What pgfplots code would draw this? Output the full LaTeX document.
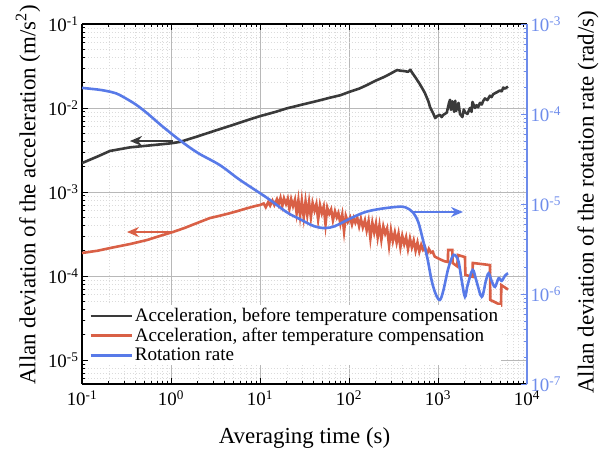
\documentclass[border=0pt]{standalone}
\usepackage{fontspec}
\setmainfont{Liberation Serif}
\usepackage{pgfplots}
\pgfplotsset{compat=1.18}
\usetikzlibrary{arrows.meta}
\definecolor{curvedark}{RGB}{58,58,58}
\definecolor{corange}{RGB}{217,96,70}
\definecolor{cblue}{RGB}{88,122,232}
\definecolor{caxblue}{RGB}{110,140,235}
\begin{document}
\begin{tikzpicture}
\begin{axis}[
  scale only axis, width=445bp, height=360bp,
  xmode=log, ymode=log, xmin=0.1, xmax=10000,
  tick align=inside,
  major tick length=6bp, minor tick length=3.5bp,
  tick label style={font=\fontsize{19}{19}\selectfont},
  label style={font=\fontsize{23}{25}\selectfont},
  xticklabel style={yshift=-3bp},
  ymin=5.18e-6, ymax=0.1,
  axis y line*=left,
  axis line style={line width=1.1bp, black},
  tick style={black, line width=0.7bp},
  xtick={0.1,1,10,100,1000,10000},
  xticklabels={10\textsuperscript{-1},10\textsuperscript{0},10\textsuperscript{1},10\textsuperscript{2},10\textsuperscript{3},10\textsuperscript{4}},
  minor xtick={0.2,0.3,0.4,0.5,0.6,0.7,0.8,0.9,2,3,4,5,6,7,8,9,20,30,40,50,60,70,80,90,200,300,400,500,600,700,800,900,2000,3000,4000,5000,6000,7000,8000,9000},
  ytick={1e-5,1e-4,1e-3,1e-2,1e-1},
  yticklabels={10\textsuperscript{-5},10\textsuperscript{-4},10\textsuperscript{-3},10\textsuperscript{-2},10\textsuperscript{-1}},
  minor ytick={6e-6,7e-6,8e-6,9e-6,2e-5,3e-5,4e-5,5e-5,6e-5,7e-5,8e-5,9e-5,2e-4,3e-4,4e-4,5e-4,6e-4,7e-4,8e-4,9e-4,2e-3,3e-3,4e-3,5e-3,6e-3,7e-3,8e-3,9e-3,2e-2,3e-2,4e-2,5e-2,6e-2,7e-2,8e-2,9e-2},
  grid=both,
  major grid style={draw=black!28, line width=0.6bp},
  minor grid style={draw=black!14, line width=0.5bp, dash pattern=on 1.5bp off 1.5bp},
  xlabel={Averaging time (s)},
  ylabel={Allan deviation of the acceleration (m/s\textsuperscript{2})},
  xlabel style={at={(axis description cs:0.5,-0.15)}, anchor=center},
  ylabel style={at={(axis description cs:-0.1213,0.525)}, anchor=center},
]
% Acceleration, before temperature compensation
\addplot[draw=curvedark, line width=2.6bp, line join=round] coordinates {
(0.1,2.21e-3)(0.15,2.65e-3)(0.206,3.08e-3)(0.346,3.4e-3)(0.6,3.6e-3)(1.0,3.8e-3)(1.26,3.95e-3)
(2.0,4.6e-3)(3.0,5.3e-3)(5.0,6.3e-3)(7.0,7.1e-3)(10,8.0e-3)(15,9.0e-3)(20,9.9e-3)(30,1.10e-2)(45,1.22e-2)(60,1.32e-2)(80,1.42e-2)(100,1.55e-2)
(130,1.7e-2)(160,1.88e-2)(200,2.12e-2)(250,2.35e-2)(300,2.6e-2)(346,2.83e-2)(380,2.78e-2)(420,2.75e-2)(460,2.7e-2)(490,2.85e-2)(510,2.65e-2)
(560,2.3e-2)(620,1.95e-2)(680,1.65e-2)(714,1.5e-2)(780,1.2e-2)(813,1.03e-2)(880,8.7e-3)(930,7.6e-3)(975,8.0e-3)(1052,8.3e-3)(1100,7.8e-3)(1150,8.3e-3)
(1255,8.8e-3)(1330,1.15e-2)(1364,1.25e-2)(1400,9.5e-3)(1450,1.2e-2)(1520,9.0e-3)(1560,1.22e-2)(1600,9.2e-3)(1700,1.15e-2)(1766,8.5e-3)(1880,7.8e-3)
(1950,9.6e-3)(2010,8.9e-3)(2140,8.5e-3)(2288,1.0e-2)(2380,9.0e-3)(2440,1.18e-2)(2604,1.0e-2)(2700,1.08e-2)(2820,1.02e-2)(2963,1.15e-2)(3100,1.1e-2)
(3230,1.22e-2)(3373,1.3e-2)(3580,1.24e-2)(3838,1.4e-2)(4000,1.35e-2)(4170,1.46e-2)(4368,1.5e-2)(4640,1.55e-2)(4971,1.62e-2)(5200,1.58e-2)(5410,1.75e-2)(5658,1.7e-2)(6120,1.8e-2)
};
% Acceleration, after temperature compensation
\addplot[draw=corange, line width=2.6bp] coordinates {
(0.1,1.88e-4)(0.15,2.0e-4)(0.206,2.15e-4)(0.346,2.40e-4)(0.537,2.68e-4)(0.752,3.0e-4)(1.05,3.34e-4)(1.44,3.75e-4)(1.96,4.27e-4)(2.74,4.9e-4)(3.5,5.2e-4)(4.6,5.6e-4)(5.5,5.9e-4)(6.78,6.3e-4)(8.79,6.8e-4)(10,7.0e-4)
(11.0,7.3e-4)(11.6,6.6e-4)(12.4,7.6e-4)(13.0,6.9e-4)(13.8,7.9e-4)(14.5,7.0e-4)(15.5,8.2e-4)(16.2,7.1e-4)(17.0,8.5e-4)(17.8,6.8e-4)(18.6,8.4e-4)(19.6,7.2e-4)(20.5,8.3e-4)(21.4,6.3e-4)(22.4,8.2e-4)(23.5,6.8e-4)(24.7,8.1e-4)(25.8,5.6e-4)(27.0,8.0e-4)(28.2,5.2e-4)(29.5,7.9e-4)(31,5.0e-4)(32.5,7.7e-4)(34,5.3e-4)(35.6,7.6e-4)(37.3,5.0e-4)(39,7.4e-4)(41,6.0e-4)(43,7.2e-4)(45,4.7e-4)(47.2,7.0e-4)(49.5,5.6e-4)(52,6.7e-4)(54.5,4.1e-4)(57,6.5e-4)(60,5.5e-4)(63,6.2e-4)(66,4.6e-4)(69.6,5.9e-4)(73,5.0e-4)(76,5.6e-4)(80,4.2e-4)(84,5.4e-4)(88,3.4e-4)(92,5.2e-4)(97,4.4e-4)(103,5.0e-4)(108,4.1e-4)(113,4.9e-4)(118,4.3e-4)(124,4.9e-4)(130,3.9e-4)(136,4.8e-4)(143,3.8e-4)(151,4.6e-4)(158,3.5e-4)(166,4.5e-4)(174,2.8e-4)(183,4.3e-4)(192,3.3e-4)(201,4.2e-4)(210,2.9e-4)(220,4.0e-4)(231,2.7e-4)(243,3.9e-4)(255,3.2e-4)(268,3.7e-4)(282,2.3e-4)(296,3.5e-4)(311,2.6e-4)(327,3.3e-4)(343,2.5e-4)(360,3.2e-4)(378,2.2e-4)(397,3.0e-4)(417,2.4e-4)(438,2.9e-4)(460,2.1e-4)(484,2.8e-4)(508,2.2e-4)(533,2.65e-4)(560,2.0e-4)(588,2.5e-4)(617,1.95e-4)(648,2.35e-4)(680,2.05e-4)(714,2.2e-4)(750,1.8e-4)(790,2.1e-4)(830,1.9e-4)(870,1.95e-4)(920,1.7e-4)(975,1.65e-4)(1030,1.6e-4)(1100,1.55e-4)(1180,1.5e-4)(1290,1.47e-4)(1300,2.04e-4)(1450,2.04e-4)(1460,1.43e-4)(1650,1.3e-4)(1670,1.78e-4)(2010,1.68e-4)(2030,1.03e-4)(2440,9.8e-5)(2460,1.43e-4)(3838,1.35e-4)(3870,5.2e-5)(5100,4.5e-5)(5150,7.8e-5)(6120,6.9e-5)
};
% arrows
\addplot[draw=curvedark, fill=curvedark, line width=2.6bp, -{Stealth[length=12bp,width=10bp]}, forget plot] coordinates {(1.05,4.05e-3)(0.346,4.05e-3)};
\addplot[draw=corange, fill=corange, line width=2.6bp, -{Stealth[length=12bp,width=10bp]}, forget plot] coordinates {(1.05,3.34e-4)(0.32,3.34e-4)};
\end{axis}
\begin{axis}[
  scale only axis, width=445bp, height=360bp,
  xmode=log, ymode=log, xmin=0.1, xmax=10000,
  tick align=inside,
  major tick length=6bp, minor tick length=3.5bp,
  tick label style={font=\fontsize{19}{19}\selectfont},
  label style={font=\fontsize{23}{25}\selectfont},
  ymin=1e-7, ymax=1e-3,
  axis y line*=right, axis x line=none,
  y axis line style={line width=1.1bp, caxblue},
  ytick style={caxblue, line width=0.7bp},
  yticklabel style={text=caxblue},
  ytick={1e-7,1e-6,1e-5,1e-4,1e-3},
  yticklabels={10\textsuperscript{-7},10\textsuperscript{-6},10\textsuperscript{-5},10\textsuperscript{-4},10\textsuperscript{-3}},
  minor ytick={2e-7,3e-7,4e-7,5e-7,6e-7,7e-7,8e-7,9e-7,2e-6,3e-6,4e-6,5e-6,6e-6,7e-6,8e-6,9e-6,2e-5,3e-5,4e-5,5e-5,6e-5,7e-5,8e-5,9e-5,2e-4,3e-4,4e-4,5e-4,6e-4,7e-4,8e-4,9e-4},
  ylabel={Allan deviation of the rotation rate (rad/s)},
  ylabel style={at={(axis description cs:1.137,0.505)}, anchor=center},
  legend style={at={(axis description cs:0.0135,0.219)}, anchor=north west, draw=none, fill=white, inner sep=1bp,
    font=\fontsize{19.2}{23}\selectfont, row sep=1bp},
  legend cell align=left,
  legend image code/.code={\draw[#1] (0bp,0bp) -- (41bp,0bp);},
]
\addlegendimage{draw=curvedark, line width=2.6bp}
\addlegendentry{Acceleration, before temperature compensation}
\addlegendimage{draw=corange, line width=2.6bp}
\addlegendentry{Acceleration, after temperature compensation}
\addplot[draw=cblue, line width=2.6bp, smooth, tension=0.55] coordinates {
(0.1,1.95e-4)(0.15,1.87e-4)(0.19,1.8e-4)(0.24,1.7e-4)(0.29,1.55e-4)(0.4,1.28e-4)(0.54,1.02e-4)(0.8,7.3e-5)(1.26,5.1e-5)(2.0,3.7e-5)(3.55,2.7e-5)(5.96,1.85e-5)(12,1.17e-5)(20,8.1e-6)(28,6.8e-6)(40,5.7e-6)(53.7,5.4e-6)(70,5.7e-6)(100,6.8e-6)(150,8.1e-6)(220,8.8e-6)(346,9.3e-6)(430,9.2e-6)(520,8.1e-6)(600,6.3e-6)(677,4.0e-6)(760,2.5e-6)(850,1.4e-6)(950,9.8e-7)(1052,8.6e-7)(1150,1.1e-6)(1300,1.9e-6)(1450,2.6e-6)(1552,2.71e-6)(1700,2.3e-6)(1850,1.4e-6)(2010,9.3e-7)(2150,1.25e-6)(2450,1.85e-6)(2700,1.4e-6)(3100,9.3e-7)(3450,1.4e-6)(3700,1.7e-6)(4000,1.4e-6)(4368,1.2e-6)(4800,1.5e-6)(5200,1.4e-6)(5658,1.6e-6)(6120,1.7e-6)
};
\addlegendentry{Rotation rate}
\addplot[draw=cblue, fill=cblue, line width=2.6bp, -{Stealth[length=12bp,width=10bp]}, forget plot] coordinates {(524,8.15e-6)(1910,8.15e-6)};
\end{axis}
\pgfresetboundingbox
\path (-82bp,-67bp) rectangle (527bp,384bp);
\end{tikzpicture}
\end{document}
